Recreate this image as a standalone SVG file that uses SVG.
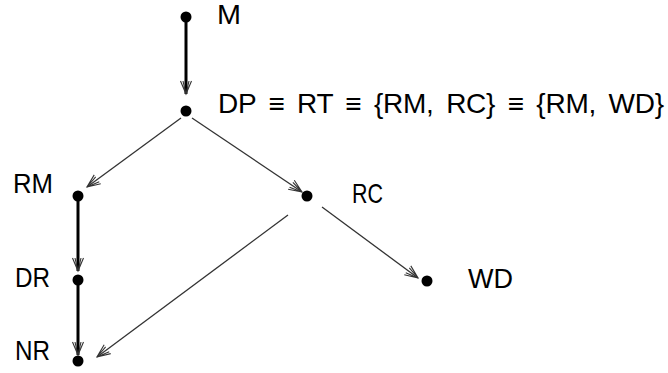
<svg xmlns="http://www.w3.org/2000/svg" width="668" height="373" viewBox="0 0 668 373">
<style>
text{font-family:"Liberation Sans","DejaVu Sans",sans-serif;font-size:28px;fill:#000}
.thick{stroke:#000;stroke-width:3;fill:none}
.thin{stroke:#333;stroke-width:1.3;fill:none}
.dot{fill:#000}
</style>
<defs>
<marker id="ah" markerUnits="userSpaceOnUse" viewBox="-14 -7 16 14" markerWidth="16" markerHeight="14" refX="0" refY="0" orient="auto" overflow="visible">
<path d="M-13,-5.5 L0,0 L-13,5.5 M-13,-3 L0,0 L-13,3" stroke="#333" stroke-width="1.1" fill="none"/>
</marker>
</defs>
<rect width="668" height="373" fill="#fff"/>
<g id="connectors">
<line class="thick" x1="186" y1="20" x2="186" y2="94" marker-end="url(#ah)"/>
<line class="thin" x1="181" y1="118" x2="87" y2="187" marker-end="url(#ah)"/>
<line class="thin" x1="192" y1="118" x2="302" y2="192" marker-end="url(#ah)"/>
<line class="thin" x1="322" y1="207" x2="418" y2="278" marker-end="url(#ah)"/>
<line class="thin" x1="288" y1="215" x2="97" y2="357" marker-end="url(#ah)"/>
<line class="thick" x1="78" y1="199" x2="78" y2="271" marker-end="url(#ah)"/>
<line class="thick" x1="78" y1="284" x2="78" y2="355" marker-end="url(#ah)"/>
</g>
<g id="M"><circle class="dot" cx="186" cy="17" r="5.5"/><text x="217" y="24" textLength="24" lengthAdjust="spacingAndGlyphs">M</text></g>
<g id="DP"><circle class="dot" cx="186" cy="111" r="5.5"/><text x="218" y="113" font-size="27" textLength="446" lengthAdjust="spacing" word-spacing="5">DP ≡ RT ≡ {RM, RC} ≡ {RM, WD}</text></g>
<g id="RM"><circle class="dot" cx="78" cy="196" r="5.5"/><text x="13" y="193" textLength="40" lengthAdjust="spacingAndGlyphs">RM</text></g>
<g id="RC"><circle class="dot" cx="307" cy="196" r="5.5"/><text x="352" y="203" textLength="31" lengthAdjust="spacingAndGlyphs">RC</text></g>
<g id="WD"><circle class="dot" cx="427" cy="281" r="5.5"/><text x="468" y="288" textLength="45" lengthAdjust="spacingAndGlyphs">WD</text></g>
<g id="DR"><circle class="dot" cx="78" cy="280" r="5.5"/><text x="15" y="287" textLength="35" lengthAdjust="spacingAndGlyphs">DR</text></g>
<g id="NR"><circle class="dot" cx="78" cy="361" r="5.5"/><text x="15" y="360" textLength="35" lengthAdjust="spacingAndGlyphs">NR</text></g>
</svg>
